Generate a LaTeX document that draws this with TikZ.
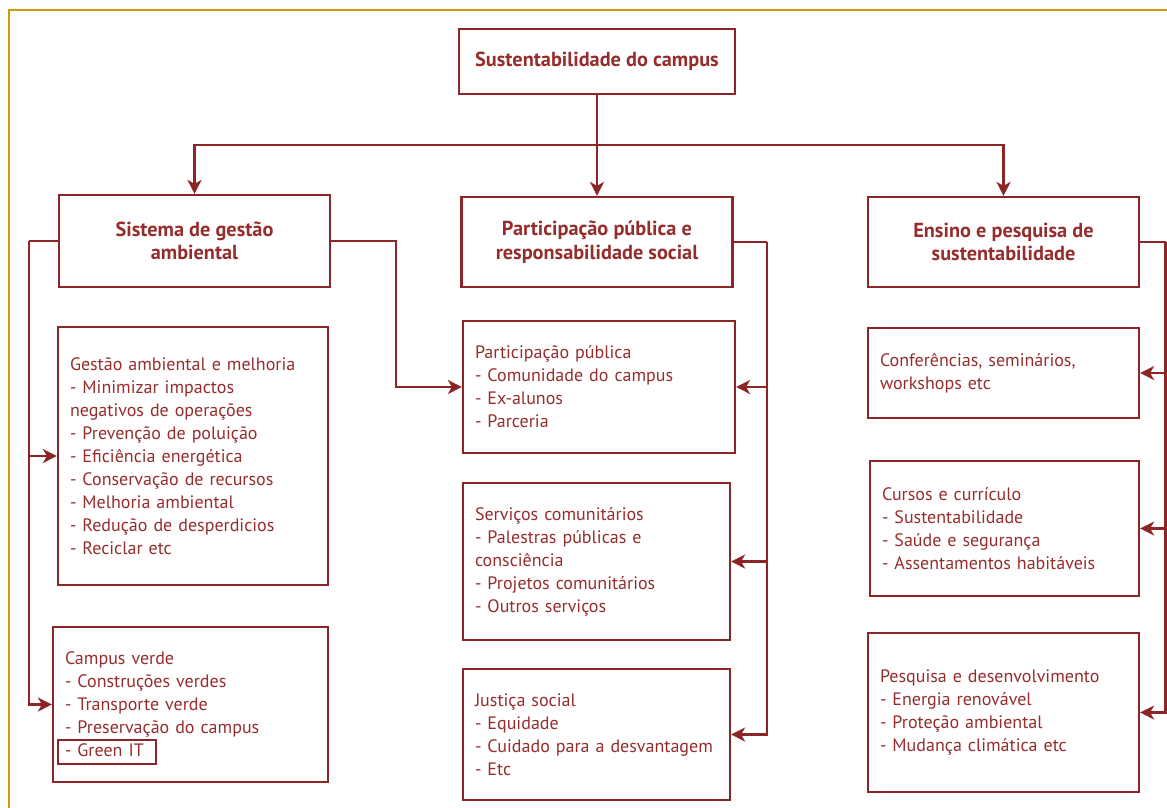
\documentclass[tikz,border=0pt]{standalone}
\usepackage{fontspec}
\setmainfont{PT Sans}
\usetikzlibrary{arrows.meta}
\definecolor{dred}{RGB}{140,38,38}
\definecolor{tred}{RGB}{150,45,45}
\definecolor{gold}{RGB}{205,155,10}
\begin{document}
\begin{tikzpicture}[x=1pt,y=-1pt,
  base/.style={draw=dred, line width=2.2pt, text=tred, inner ysep=0pt, anchor=center},
  box/.style={base, font=\fontsize{18}{23}\selectfont, align=left, inner xsep=12pt},
  head/.style={base, font=\bfseries\fontsize{20.3}{23.5}\selectfont, align=center, inner xsep=0pt},
  conn/.style={draw=dred, line width=2.2pt},
  arr/.style={conn, -{Stealth[length=14pt,width=14pt,inset=4pt]}}]
\useasboundingbox (0,0) rectangle (1167,807);
\draw[gold, line width=2pt] (9,808) -- (9,10) -- (1168,10);

% headings
\node[head, minimum width=276pt, minimum height=65pt] (top) at (597,61.5) {Sustentabilidade do campus};
\node[head, minimum width=271pt, minimum height=92pt] (sga) at (194.5,241) {Sistema de gestão\\ambiental};
\node[head, minimum width=271pt, minimum height=90pt] (ppr) at (597,242) {Participação pública e\\responsabilidade social};
\node[head, minimum width=271pt, minimum height=90pt] (eps) at (1003.5,242) {Ensino e pesquisa de\\sustentabilidade};

% left column
\node[box, text width=246pt, minimum height=258pt] (gam) at (193,456) {Gestão ambiental e melhoria\\- Minimizar impactos\\negativos de operações\\- Prevenção de poluição\\- Eficiência energética\\- Conservação de recursos\\- Melhoria ambiental\\- Redução de desperdicios\\- Reciclar etc};
\node[box, text width=251pt, minimum height=155pt] (cv) at (190.5,704.5) {Campus verde\\- Construções verdes\\- Transporte verde\\- Preservação do campus\\- Green IT};
\draw[dred, line width=1.6pt] ([shift={(6,-19)}]cv.south west) rectangle ([shift={(104,-43)}]cv.south west);

% middle column
\node[box, text width=248pt, minimum height=132pt] (pp) at (599,387) {Participação pública\\- Comunidade do campus\\- Ex-alunos\\- Parceria};
\node[box, text width=243pt, minimum height=157pt] (sc) at (596.5,561.5) {Serviços comunitários\\- Palestras públicas e\\consciência\\- Projetos comunitários\\- Outros serviços};
\node[box, text width=243pt, minimum height=131pt] (js) at (596.5,734.5) {Justiça social\\- Equidade\\- Cuidado para a desvantagem\\- Etc};

% right column
\node[box, text width=247pt, minimum height=90pt] (conf) at (1003.5,373) {Conferências, seminários,\\workshops etc};
\node[box, text width=245pt, minimum height=135pt] (cur) at (1004.5,528.5) {Cursos e currículo\\- Sustentabilidade\\- Saúde e segurança\\- Assentamentos habitáveis};
\node[box, text width=247pt, minimum height=159pt] (pes) at (1003.5,712.5) {Pesquisa e desenvolvimento\\- Energia renovável\\- Proteção ambiental\\- Mudança climática etc};

% connectors
\coordinate (hub) at (597,145);
\draw[conn] (top.south) -- (hub);
\draw[arr] (hub) -- (ppr.north);
\draw[arr] (hub) -| (sga.north);
\draw[arr] (hub) -| (eps.north);

\coordinate (lb) at (29,241);
\draw[conn] (sga.west) -- (lb);
\draw[arr] (lb) |- (gam.west);
\draw[arr] (lb) |- (cv.west);

\coordinate (rb) at (396,241);
\draw[arr] (sga.east) -- (rb) |- (pp.west);

\coordinate (mb) at (767,242);
\draw[conn] (ppr.east) -- (mb);
\draw[arr] (mb) |- (pp.east);
\draw[arr] (mb) |- (sc.east);
\draw[arr] (mb) |- (js.east);

\coordinate (eb) at (1165.5,242);
\draw[conn] (eps.east) -- (eb);
\draw[arr] (eb) |- (conf.east);
\draw[arr] (eb) |- (cur.east);
\draw[arr] (eb) |- (pes.east);
\end{tikzpicture}
\end{document}
